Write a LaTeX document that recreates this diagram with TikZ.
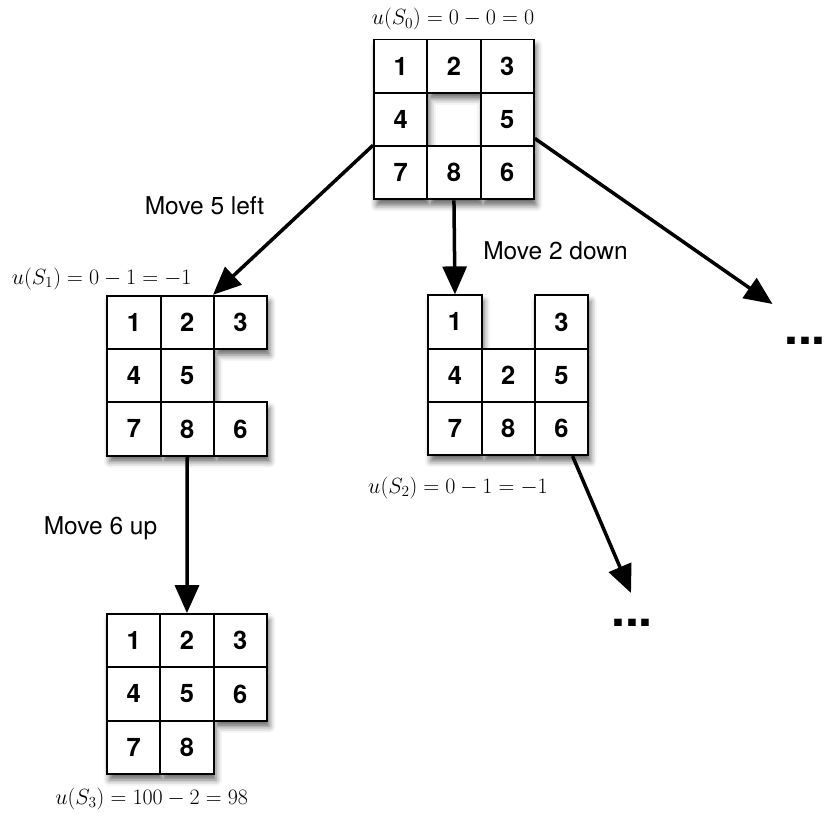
\documentclass[tikz,border=0pt]{standalone}
\usepackage{fix-cm}
\usepackage{amsmath}
\usepackage{fontspec}
\usepackage{tikz}
\usetikzlibrary{arrows.meta,positioning,calc,shadows.blur}
\newfontfamily\helv{TeX Gyre Heros}
\def\cell{53.3}
% one board: name, origin x, origin y, list of col/row/number
\newcommand{\board}[4]{%
  \begin{scope}
  \path[boardshadow] \foreach \c/\r/\n in {#4} {
    ({#2+(\c-1)*\cell},{#3+(\r-1)*\cell}) rectangle ++(\cell,\cell)};
  \end{scope}
  \foreach \c/\r/\n in {#4}
    \node[tile] (#1t\n) at ({#2+(\c-0.5)*\cell},{#3+(\r-0.5)*\cell}) {\n};
}

\begin{document}
\begin{tikzpicture}[x=1pt,y=-1pt,>=Latex,
  tile/.style={draw,fill=white,line width=1.8pt,minimum size=\cell pt,
    inner sep=0pt,font=\helv\bfseries\fontsize{25.5}{28}\selectfont},
  boardshadow/.style={fill=white,blur shadow={shadow xshift=2.5pt,
    shadow yshift=-6pt,shadow blur radius=6pt,shadow opacity=60}},
  move/.style={line width=3.5pt,opacity=1,fill=black,
    -{Triangle[length=28pt,width=24pt,fill=black]}},
  movetext/.style={anchor=base,font=\helv\fontsize{24.5}{28}\selectfont},
  utility/.style={anchor=base,font=\fontsize{22}{25}\selectfont},
  more/.style={font=\helv\bfseries\fontsize{50}{50}\selectfont,inner sep=0pt}]
\useasboundingbox (0,0) rectangle (827,818);
% start state and the states below it
\board{s0}{374}{39.5}{1/1/1,2/1/2,3/1/3,1/2/4,3/2/5,1/3/7,2/3/8,3/3/6}
\board{s1}{107.3}{295.7}{1/1/1,2/1/2,3/1/3,1/2/4,2/2/5,1/3/7,2/3/8,3/3/6}
\board{s2}{428.3}{295.3}{1/1/1,3/1/3,1/2/4,2/2/2,3/2/5,1/3/7,2/3/8,3/3/6}
\board{s3}{107}{614}{1/1/1,2/1/2,3/1/3,1/2/4,2/2/5,3/2/6,1/3/7,2/3/8}
% utilities
\node[utility] (u0) at (453,25) {$u(S_0)=0-0=0$};
\node[utility] (u1) at (101.7,284) {$u(S_1)=0-1=-1$};
\node[utility] (u2) at (458,493) {$u(S_2)=0-1=-1$};
\node[utility] (u3) at (151.7,804) {$u(S_3)=100-2=98$};
% moves
\draw[move] (s0t7.north west) -- (s1t3.north west);
\draw[move] (s0t8.south) -- (s2t1.north);
\draw[move] (s1t8.south) -- (s3t2.north);
\coordinate (tip1) at (772.5,304);
\coordinate (tip2) at (631,593);
\draw[move] ([yshift=-19pt]s0t5.east) -- (tip1);
\draw[move] ([xshift=11pt]s2t6.south) -- (tip2);
\node[movetext] (m1) at (204.5,214.3) {Move 5 left};
\node[movetext] (m2) at (555.5,259.3) {Move 2 down};
\node[movetext] (m3) at (100.5,534) {Move 6 up};
\node[more] (dots1) at (805,341) {...};
\node[more] (dots2) at (632,622.5) {...};
\end{tikzpicture}
\end{document}
